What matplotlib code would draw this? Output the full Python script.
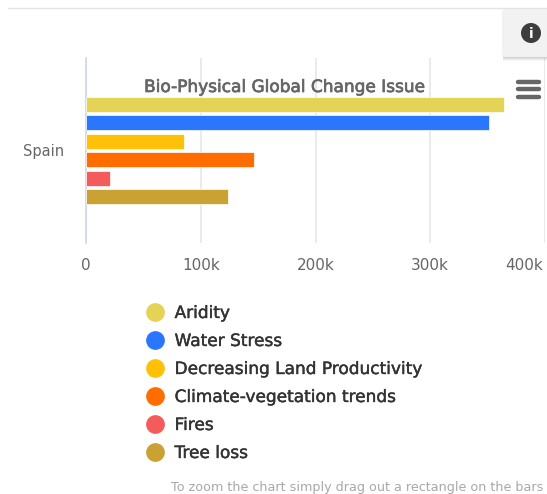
import matplotlib
matplotlib.use("Agg")
import matplotlib.pyplot as plt
import matplotlib.patheffects as pe
from matplotlib.lines import Line2D
from matplotlib.patches import Circle, FancyBboxPatch, Rectangle
from matplotlib.transforms import ScaledTranslation

W, H = 547, 494

categories = ["Spain"]
issues = ["Aridity", "Water Stress", "Decreasing Land Productivity",
          "Climate-vegetation trends", "Fires", "Tree loss"]
values = [364000, 351000, 85000, 146000, 21000, 124000]
colors = ["#e4d354", "#2b76ff", "#ffc107", "#ff6d00", "#f45b5b", "#c9a233"]
x_ticks = [0, 100000, 200000, 300000, 400000]
x_labels = ["0", "100k", "200k", "300k", "400k"]


def box(x0, y0, x1, y1):
    # pixel box from the top left corner to figure fractions
    return [x0 / W, 1 - y1 / H, (x1 - x0) / W, (y1 - y0) / H]


fig = plt.figure(figsize=(W / 100, H / 100), dpi=100)

# page furniture sits in its own full size axes, in pixels
bg = fig.add_axes([0, 0, 1, 1], zorder=3)
bg.set_xlim(0, W)
bg.set_ylim(H, 0)
bg.axis("off")
bg.patch.set_alpha(0)

ax = fig.add_axes(box(86, 58, 545, 243), zorder=1)
for i, (v, c) in enumerate(zip(values, colors)):
    ax.barh((i - 2.5) * 0.1, v, height=0.079, color=c, edgecolor="#ffffff",
            linewidth=0.5, zorder=3)
ax.set_xlim(0, 400000)
ax.set_ylim(0.5, -0.5)
ax.set_xticks(x_ticks)
ax.set_xticklabels(x_labels, color="#666666", fontsize=11)
ax.set_yticks([0])
ax.set_yticklabels(categories, color="#666666", fontsize=10.5)
ax.tick_params(length=0)
ax.tick_params(axis="x", pad=11)
ax.tick_params(axis="y", pad=16)
ax.grid(axis="x", color="#e6e6e6", linewidth=1.2, zorder=0)
ax.set_axisbelow(True)
for s in ["top", "bottom", "right"]:
    ax.spines[s].set_visible(False)
ax.spines["left"].set_color("#ccd6eb")
ax.spines["left"].set_linewidth(1.2)

# last label is pulled inside the page
last = ax.get_xticklabels()[-1]
last.set_transform(last.get_transform() + ScaledTranslation(-21 / 100, 0, fig.dpi_scale_trans))

bg.text(284, 87, "Bio-Physical Global Change Issue", ha="center", va="center",
        fontsize=12.2, color="#666666",
        path_effects=[pe.withStroke(linewidth=0.5, foreground="#666666")])

# top rule, info tab and menu icon
bg.plot([8, 547], [8.5, 8.5], color="#e3e3e3", lw=1)
for off, a in [(4, 0.03), (3, 0.04), (2, 0.05), (1, 0.06)]:
    bg.add_patch(Rectangle((503, 50), 45, 7 + off, fc="#000000", ec="none", alpha=a))
bg.add_patch(FancyBboxPatch((502, 9), 50, 48, boxstyle="round,pad=0,rounding_size=3",
                            fc="#f2f2f2", ec="none"))
bg.add_patch(Circle((531, 33), 10, fc="#3d3d3d", ec="none"))
bg.text(531, 33.5, "i", ha="center", va="center", color="white", fontsize=10,
        fontweight="bold")
for y in [82, 89.5, 97]:
    bg.plot([518, 539], [y, y], color="#666666", lw=3.2, solid_capstyle="round")

handles = [Line2D([], [], linestyle="none", marker="o", markersize=13.5, color=c,
                  markeredgecolor="none") for c in colors]
leg = fig.legend(handles, issues, loc="upper left", frameon=False,
                 bbox_to_anchor=(139 / W, 1 - 304 / H), fontsize=12.2,
                 labelcolor="#333333", labelspacing=0.59, handletextpad=0.2,
                 handlelength=1.9, borderaxespad=0, borderpad=0)
for t in leg.get_texts():
    t.set_path_effects([pe.withStroke(linewidth=0.3, foreground="#333333")])

bg.text(543, 487, "To zoom the chart simply drag out a rectangle on the bars",
        ha="right", va="center", fontsize=9.15, color="#a8a8a8")

fig.savefig("out.png", dpi=100)
